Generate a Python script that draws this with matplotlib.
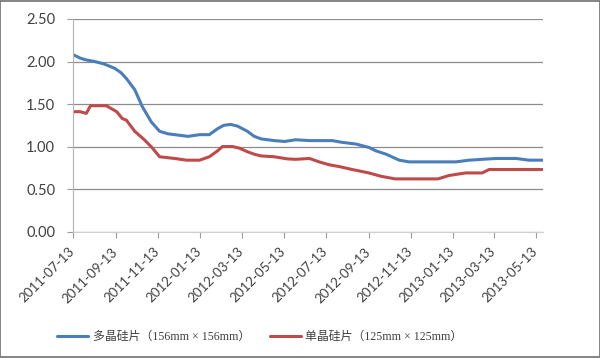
import matplotlib
matplotlib.use("Agg")
import matplotlib.pyplot as plt
import matplotlib.transforms as mtransforms
import pandas as pd
from matplotlib.patches import Rectangle

# ---- data ----
poly_dates = ["2011-07-13", "2011-07-23", "2011-07-31", "2011-08-13", "2011-08-27",
              "2011-09-11", "2011-09-20", "2011-09-28", "2011-10-10", "2011-10-21",
              "2011-11-03", "2011-11-15", "2011-11-27", "2011-12-07", "2011-12-26",
              "2012-01-12", "2012-01-26", "2012-02-07", "2012-02-16", "2012-02-26",
              "2012-03-07", "2012-03-21", "2012-03-31", "2012-04-10", "2012-04-29",
              "2012-05-14", "2012-05-30", "2012-06-19", "2012-07-22", "2012-08-05",
              "2012-08-25", "2012-09-13", "2012-09-23", "2012-10-08", "2012-10-27",
              "2012-11-10", "2013-01-17", "2013-02-05", "2013-02-24", "2013-03-16",
              "2013-04-14", "2013-05-03", "2013-05-22"]
poly_values = [2.08, 2.04, 2.02, 2.00, 1.97,
               1.92, 1.87, 1.80, 1.67, 1.47,
               1.29, 1.18, 1.15, 1.14, 1.12,
               1.14, 1.14, 1.21, 1.25, 1.26,
               1.24, 1.18, 1.12, 1.09, 1.07,
               1.06, 1.08, 1.07, 1.07, 1.05,
               1.03, 0.99, 0.95, 0.91, 0.84,
               0.82, 0.82, 0.84, 0.85, 0.86,
               0.86, 0.84, 0.84]

mono_dates = ["2011-07-13", "2011-07-23", "2011-08-01", "2011-08-07", "2011-08-30",
              "2011-09-14", "2011-09-22", "2011-09-28", "2011-10-10", "2011-10-24",
              "2011-11-05", "2011-11-15", "2011-12-07", "2011-12-24", "2012-01-12",
              "2012-01-26", "2012-02-07", "2012-02-14", "2012-02-29", "2012-03-10",
              "2012-03-21", "2012-03-31", "2012-04-10", "2012-04-29", "2012-05-18",
              "2012-05-30", "2012-06-19", "2012-07-03", "2012-07-18", "2012-08-01",
              "2012-08-20", "2012-09-13", "2012-10-01", "2012-10-21", "2012-12-22",
              "2013-01-07", "2013-01-31", "2013-02-24", "2013-03-06", "2013-05-22"]
mono_values = [1.41, 1.41, 1.39, 1.48, 1.48,
               1.41, 1.33, 1.31, 1.18, 1.08,
               0.98, 0.88, 0.86, 0.84, 0.84,
               0.88, 0.95, 1.00, 1.00, 0.98,
               0.94, 0.91, 0.89, 0.88, 0.855,
               0.85, 0.86, 0.82, 0.785, 0.765,
               0.73, 0.69, 0.65, 0.62, 0.62,
               0.66, 0.69, 0.69, 0.73, 0.73]

tick_labels = ["2011-07-13", "2011-09-13", "2011-11-13", "2012-01-13", "2012-03-13",
               "2012-05-13", "2012-07-13", "2012-09-13", "2012-11-13", "2013-01-13",
               "2013-03-13", "2013-05-13"]
y_ticks = [0.0, 0.5, 1.0, 1.5, 2.0, 2.5]

series_names = ["多晶硅片（156mm × 156mm）", "单晶硅片（125mm × 125mm）"]

# ---- figure ----
fig = plt.figure(figsize=(6.0, 3.58), dpi=100)
ax = fig.add_axes([0.122, 0.353, 0.783, 0.594])

text_color = "#404040"
ax.plot(pd.to_datetime(poly_dates), poly_values, color="#4A7EBB", lw=2.2,
        label=series_names[0], solid_capstyle="round", solid_joinstyle="round")
ax.plot(pd.to_datetime(mono_dates), mono_values, color="#BE4B48", lw=2.2,
        label=series_names[1], solid_capstyle="round", solid_joinstyle="round")

ax.set_ylim(0, 2.5)
ax.set_yticks(y_ticks)
ax.set_yticklabels([f"{v:.2f}" for v in y_ticks])
ax.set_xlim(pd.Timestamp("2011-07-13"), pd.Timestamp("2013-05-23"))
ax.set_xticks(pd.to_datetime(tick_labels))
ax.set_xticklabels(tick_labels, rotation=45, ha="right", rotation_mode="anchor")

ax.grid(axis="y", color="#8c8c8c", lw=0.9)
ax.set_axisbelow(True)
for s in ["top", "right"]:
    ax.spines[s].set_visible(False)
ax.spines["left"].set_color("#b5b5b5")
ax.spines["bottom"].set_color("#d0d0d0")
ax.tick_params(axis="y", colors="#9a9a9a", length=4, labelcolor=text_color,
               labelsize=10.5, pad=9)
ax.tick_params(axis="x", colors="#9a9a9a", length=4, labelcolor=text_color,
               labelsize=9.6, pad=6)
shift = mtransforms.ScaledTranslation(-5 / 100, 0, fig.dpi_scale_trans)
for lab in ax.get_xticklabels():
    lab.set_family(["Lato", "DejaVu Sans"])
    lab.set_transform(lab.get_transform() + shift)
for lab in ax.get_yticklabels():
    lab.set_family(["Lato", "DejaVu Sans"])

leg = fig.legend(loc="center", bbox_to_anchor=(0.433, 0.058), ncol=2, frameon=False,
                 prop={"family": ["Liberation Serif", "Noto Sans CJK SC"], "size": 8.6},
                 handlelength=2.6, columnspacing=1.65, handletextpad=0.4)
for t in leg.get_texts():
    t.set_color(text_color)

fig.patches.append(Rectangle((0, 0.004), 1, 0.992, transform=fig.transFigure,
                             fill=False, edgecolor="#707070", lw=1.2))

fig.savefig("out.png", dpi=100)
